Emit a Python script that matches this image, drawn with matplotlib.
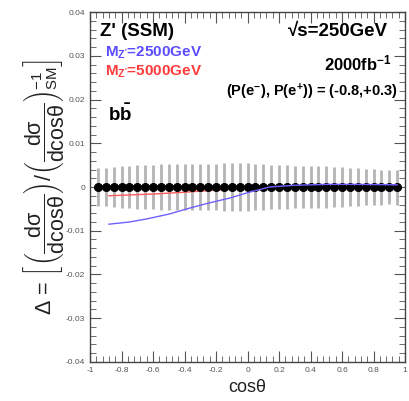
import matplotlib
matplotlib.use("Agg")
import matplotlib.pyplot as plt
import numpy as np
from matplotlib.ticker import MultipleLocator, FixedLocator, FuncFormatter

plt.rcParams['font.family'] = ['Liberation Sans', 'DejaVu Sans']
plt.rcParams['mathtext.fontset'] = 'custom'
plt.rcParams['mathtext.rm'] = 'Liberation Sans'
plt.rcParams['mathtext.it'] = 'Liberation Sans'
plt.rcParams['mathtext.bf'] = 'Liberation Sans:bold'

# data
cos_theta = np.round(np.arange(-0.95, 0.951, 0.05), 3)
delta_sm = np.zeros(len(cos_theta))
stat_err = np.array([0.0044, 0.0044, 0.0045, 0.0047, 0.0049, 0.0050, 0.0051, 0.0051,
                     0.0052, 0.0053, 0.0053, 0.0052, 0.0053, 0.0053, 0.0052, 0.0053,
                     0.0054, 0.0054, 0.0055, 0.0054, 0.0053, 0.0053, 0.0051, 0.0050,
                     0.0050, 0.0049, 0.0048, 0.0048, 0.0047, 0.0048, 0.0046, 0.0045,
                     0.0044, 0.0043, 0.0042, 0.0041, 0.0040, 0.0039, 0.0040])
half_bin = 0.025

x_2500 = [-0.88, -0.75, -0.64, -0.5, -0.365, -0.25, -0.11, 0.0, 0.14, 0.3, 0.5, 0.7, 0.95]
y_2500 = [-0.0085, -0.0080, -0.0073, -0.0062, -0.0048, -0.0037, -0.0025, -0.0013, 0.0,
          0.0004, 0.0006, 0.0006, 0.0005]
x_5000 = [-0.88, -0.6, -0.4, -0.2, -0.1, 0.0, 0.1, 0.4, 0.7, 0.95]
y_5000 = [-0.0020, -0.0016, -0.0012, -0.0007, -0.0004, -0.0002, 0.0, 0.0001, 0.0001, 0.0001]

x_ticks = [-1, -0.8, -0.6, -0.4, -0.2, 0, 0.2, 0.4, 0.6, 0.8, 1]
y_ticks = [-0.04, -0.03, -0.02, -0.01, 0, 0.01, 0.02, 0.03, 0.04]

fig = plt.figure(figsize=(4.1, 4.01), dpi=100)
ax = fig.add_axes([0.2195, 0.0973, 0.7685, 0.8727])

ax.errorbar(cos_theta, delta_sm, yerr=stat_err, fmt='none', ecolor='#b4b4b4',
            elinewidth=2.0, capsize=0, zorder=1)
ax.errorbar(cos_theta, delta_sm, xerr=half_bin, fmt='o', color='black',
            markersize=5.5, elinewidth=2.0, capsize=0, zorder=3)
ax.plot(x_2500, y_2500, color='#7060ff', lw=1.0, zorder=4)
ax.plot(x_5000, y_5000, color='#ff5a5a', lw=1.0, zorder=2)

ax.set_xlim(-1, 1)
ax.set_ylim(-0.04, 0.04)
ax.xaxis.set_major_locator(FixedLocator(x_ticks))
ax.yaxis.set_major_locator(FixedLocator(y_ticks))
ax.xaxis.set_minor_locator(MultipleLocator(0.04))
ax.yaxis.set_minor_locator(MultipleLocator(0.002))

def fmt(v, pos):
    return '%g' % v
ax.xaxis.set_major_formatter(FuncFormatter(fmt))
ax.yaxis.set_major_formatter(FuncFormatter(fmt))

ax.tick_params(which='both', direction='in', top=True, right=True,
               labelsize=6, labelcolor='#555555', color='#555555')
ax.tick_params(which='major', length=8, width=0.8)
ax.tick_params(which='minor', length=4, width=0.6)
for s in ax.spines.values():
    s.set_linewidth(1.0)
    s.set_color('#444444')

ax.set_xlabel('cos\u03b8', fontsize=13, labelpad=4, color='#222222')
ax.set_ylabel(r'$\Delta$ = $\left[\left(\dfrac{\mathrm{d\sigma}}{\mathrm{dcos\theta}}\right) / '
              r'\left(\dfrac{\mathrm{d\sigma}}{\mathrm{dcos\theta}}\right)_{\mathrm{SM}}^{-1}\right]$',
              fontsize=15.5, labelpad=0, color='#222222')

ax.text(0.032, 0.943, "Z' (SSM)", transform=ax.transAxes, fontsize=13.5,
        fontweight='bold', va='center', ha='left')
ax.text(0.048, 0.883, r"M$_{\mathbf{Z'}}$=2500GeV", transform=ax.transAxes, fontsize=11,
        fontweight='bold', color='#5b4dff', va='center', ha='left')
ax.text(0.048, 0.829, r"M$_{\mathbf{Z'}}$=5000GeV", transform=ax.transAxes, fontsize=11,
        fontweight='bold', color='#ff3b3b', va='center', ha='left')
ax.text(0.057, 0.706, r"b$\mathbf{\bar{b}}$", transform=ax.transAxes, fontsize=13.5,
        fontweight='bold', va='center', ha='left')
ax.text(0.946, 0.943, "\u221as=250GeV", transform=ax.transAxes, fontsize=13.5,
        fontweight='bold', va='center', ha='right')
ax.text(0.959, 0.854, r"2000fb$^{\mathbf{-1}}$", transform=ax.transAxes, fontsize=12,
        fontweight='bold', va='center', ha='right')
ax.text(0.978, 0.771, r"(P(e$^{\mathbf{-}}$), P(e$^{\mathbf{+}}$)) = (-0.8,+0.3)",
        transform=ax.transAxes, fontsize=10.5, fontweight='bold', va='center', ha='right')

fig.savefig('out.png', dpi=100)
